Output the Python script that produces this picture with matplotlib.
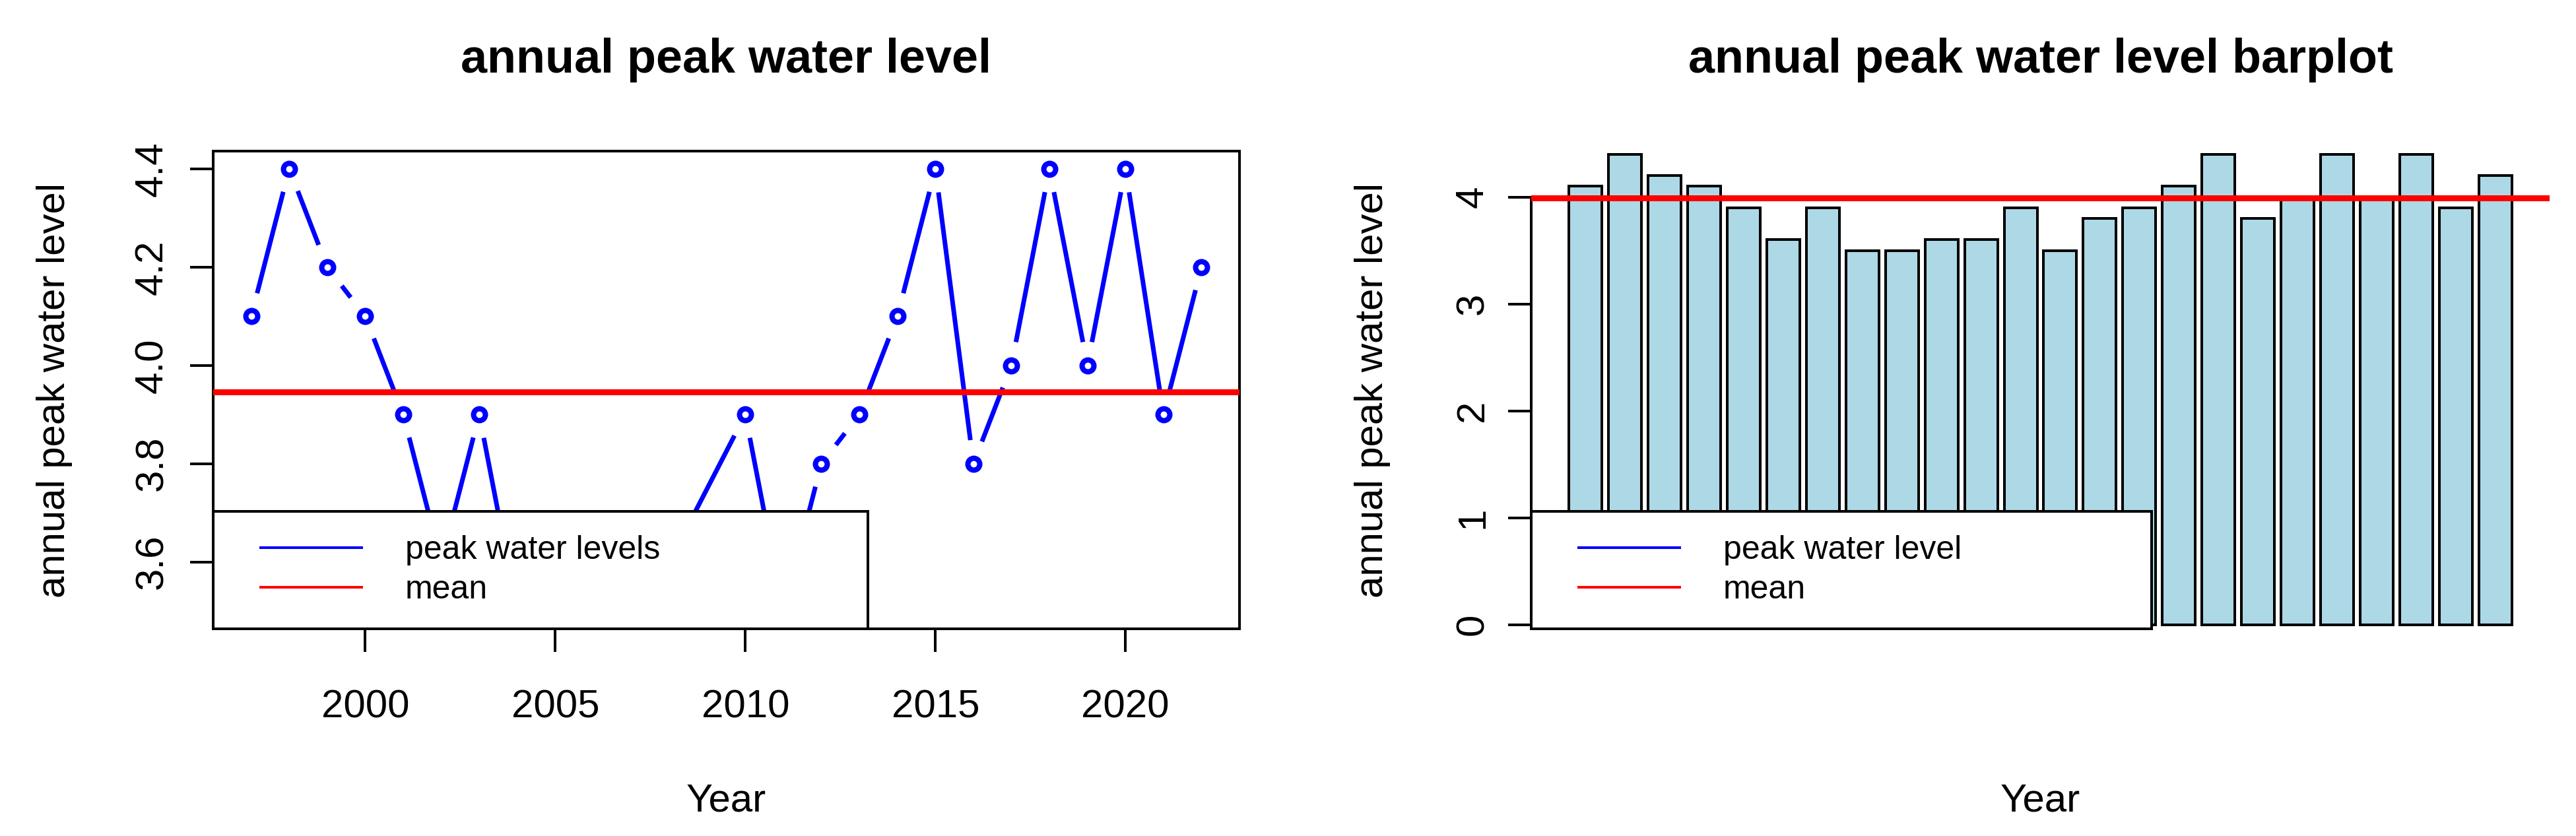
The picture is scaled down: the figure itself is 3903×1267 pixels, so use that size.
import numpy as np
import matplotlib
matplotlib.use('Agg')
import matplotlib.pyplot as plt
from matplotlib.collections import LineCollection
from matplotlib.lines import Line2D
from matplotlib.legend_handler import HandlerLine2D

plt.rcParams['font.family'] = ['Liberation Sans', 'DejaVu Sans']

# data
years = [1997, 1998, 1999, 2000, 2001, 2002, 2003, 2004, 2005, 2006, 2008,
         2010, 2011, 2012, 2013, 2014, 2015, 2016, 2017, 2018, 2019, 2020,
         2021, 2022]
levels = [4.1, 4.4, 4.2, 4.1, 3.9, 3.6, 3.9, 3.5, 3.5, 3.6, 3.6,
          3.9, 3.5, 3.8, 3.9, 4.1, 4.4, 3.8, 4.0, 4.4, 4.0, 4.4,
          3.9, 4.2]
xticks_line = [2000, 2005, 2010, 2015, 2020]
yticks_line = [3.6, 3.8, 4.0, 4.2, 4.4]
yticks_bar = [0, 1, 2, 3, 4]
bar_ref_level = 3.99
bar_ylim = (-0.04, 4.43)

W, H = 3903, 1267
PX = 0.72  # points per pixel at dpi 100

fs_tick = 60 * PX
fs_title = 72 * PX
fs_leg = 50 * PX


def r_legend(ax, handles, labels, width_frac):
    leg = ax.legend(handles, labels, loc='lower left',
                    bbox_to_anchor=(0, 0, width_frac, 1), mode='expand',
                    borderaxespad=0, borderpad=0.72, labelspacing=0.28,
                    handlelength=3.78, handletextpad=1.32,
                    fontsize=fs_leg, fancybox=False, framealpha=1,
                    edgecolor='black',
                    handler_map={Line2D: HandlerLine2D(xpad=0.72)})
    leg.get_frame().set_linewidth(4 * PX)
    leg.set_zorder(5)
    return leg


fig = plt.figure(figsize=(W / 100, H / 100), dpi=100)
ax1 = fig.add_axes([323 / W, 1 - 953 / H, 1555 / W, 724 / H])
ax2 = fig.add_axes([2320 / W, 1 - 953 / H, 1543 / W, 724 / H])

# ---------------- line plot (R type="b") ----------------
x_lo, x_hi = min(years), max(years)
xp = 0.04 * (x_hi - x_lo)
ax1.set_xlim(x_lo - xp, x_hi + xp)
y_lo, y_hi = min(levels), max(levels)
yp = 0.04 * (y_hi - y_lo)
ax1.set_ylim(y_lo - yp, y_hi + yp)

gap = 36  # pixels left open around each point
pts = ax1.transData.transform(np.column_stack([years, levels]))
segs = []
for p0, p1 in zip(pts[:-1], pts[1:]):
    d = p1 - p0
    L = np.hypot(*d)
    if L > 2 * gap:
        u = d / L
        seg = np.array([p0 + u * gap, p1 - u * gap])
        segs.append(ax1.transData.inverted().transform(seg))
ax1.add_collection(LineCollection(segs, colors='blue', linewidths=7 * PX,
                                  capstyle='butt', zorder=2))
ax1.plot(years, levels, 'o', mfc='none', mec='blue', ms=18 * PX,
         mew=8 * PX, zorder=3)
mean_line = ax1.axhline(np.mean(levels), color='red', lw=9 * PX, zorder=3)

ax1.set_title('annual peak water level', fontsize=fs_title,
              fontweight='bold', pad=119 * PX)
ax1.set_xticks(xticks_line, [str(v) for v in xticks_line], fontsize=fs_tick)
ax1.set_yticks(yticks_line, [f'{v:.1f}' for v in yticks_line],
               fontsize=fs_tick, rotation=90, va='center')
ax1.tick_params(axis='both', length=35 * PX, width=4 * PX)
ax1.tick_params(axis='x', pad=56 * PX)
ax1.tick_params(axis='y', pad=30 * PX)
for sp in ax1.spines.values():
    sp.set_linewidth(4 * PX)
ax1.set_xlabel('Year', fontsize=fs_tick)
ax1.xaxis.set_label_coords(0.5, -0.323)
ax1.set_ylabel('annual peak water level', fontsize=fs_tick)
ax1.yaxis.set_label_coords(-0.137, 0.5)

r_legend(ax1,
         [Line2D([], [], color='blue', lw=4 * PX),
          Line2D([], [], color='red', lw=4 * PX)],
         ['peak water levels', 'mean'], (1315 - 323) / 1555)

# ---------------- bar plot ----------------
pos = 0.7 + 1.2 * np.arange(len(levels))
ax2.bar(pos, levels, width=1.0, color='#ADD8E6', edgecolor='black',
        linewidth=4 * PX, zorder=1)
b_lo, b_hi = pos[0] - 0.5, pos[-1] + 0.5
bp = 0.04 * (b_hi - b_lo)
ax2.set_xlim(b_lo - bp, b_hi + bp)
ax2.set_ylim(*bar_ylim)
ax2.axhline(bar_ref_level, color='red', lw=9 * PX, zorder=3)

ax2.set_title('annual peak water level barplot', fontsize=fs_title,
              fontweight='bold', pad=119 * PX)
ax2.set_xticks([])
ax2.set_yticks(yticks_bar, [str(v) for v in yticks_bar],
               fontsize=fs_tick, rotation=90, va='center')
ax2.tick_params(axis='y', length=35 * PX, width=4 * PX, pad=26 * PX)
for side in ['top', 'right', 'bottom']:
    ax2.spines[side].set_visible(False)
ax2.spines['left'].set_linewidth(4 * PX)
ax2.spines['left'].set_bounds(0, 4)
ax2.set_xlabel('Year', fontsize=fs_tick)
ax2.xaxis.set_label_coords(0.5, -0.323)
ax2.set_ylabel('annual peak water level', fontsize=fs_tick)
ax2.yaxis.set_label_coords(-0.138, 0.5)

r_legend(ax2,
         [Line2D([], [], color='blue', lw=4 * PX),
          Line2D([], [], color='red', lw=4 * PX)],
         ['peak water level', 'mean'], (3260 - 2320) / 1543)

fig.savefig('out.png', dpi=100)
